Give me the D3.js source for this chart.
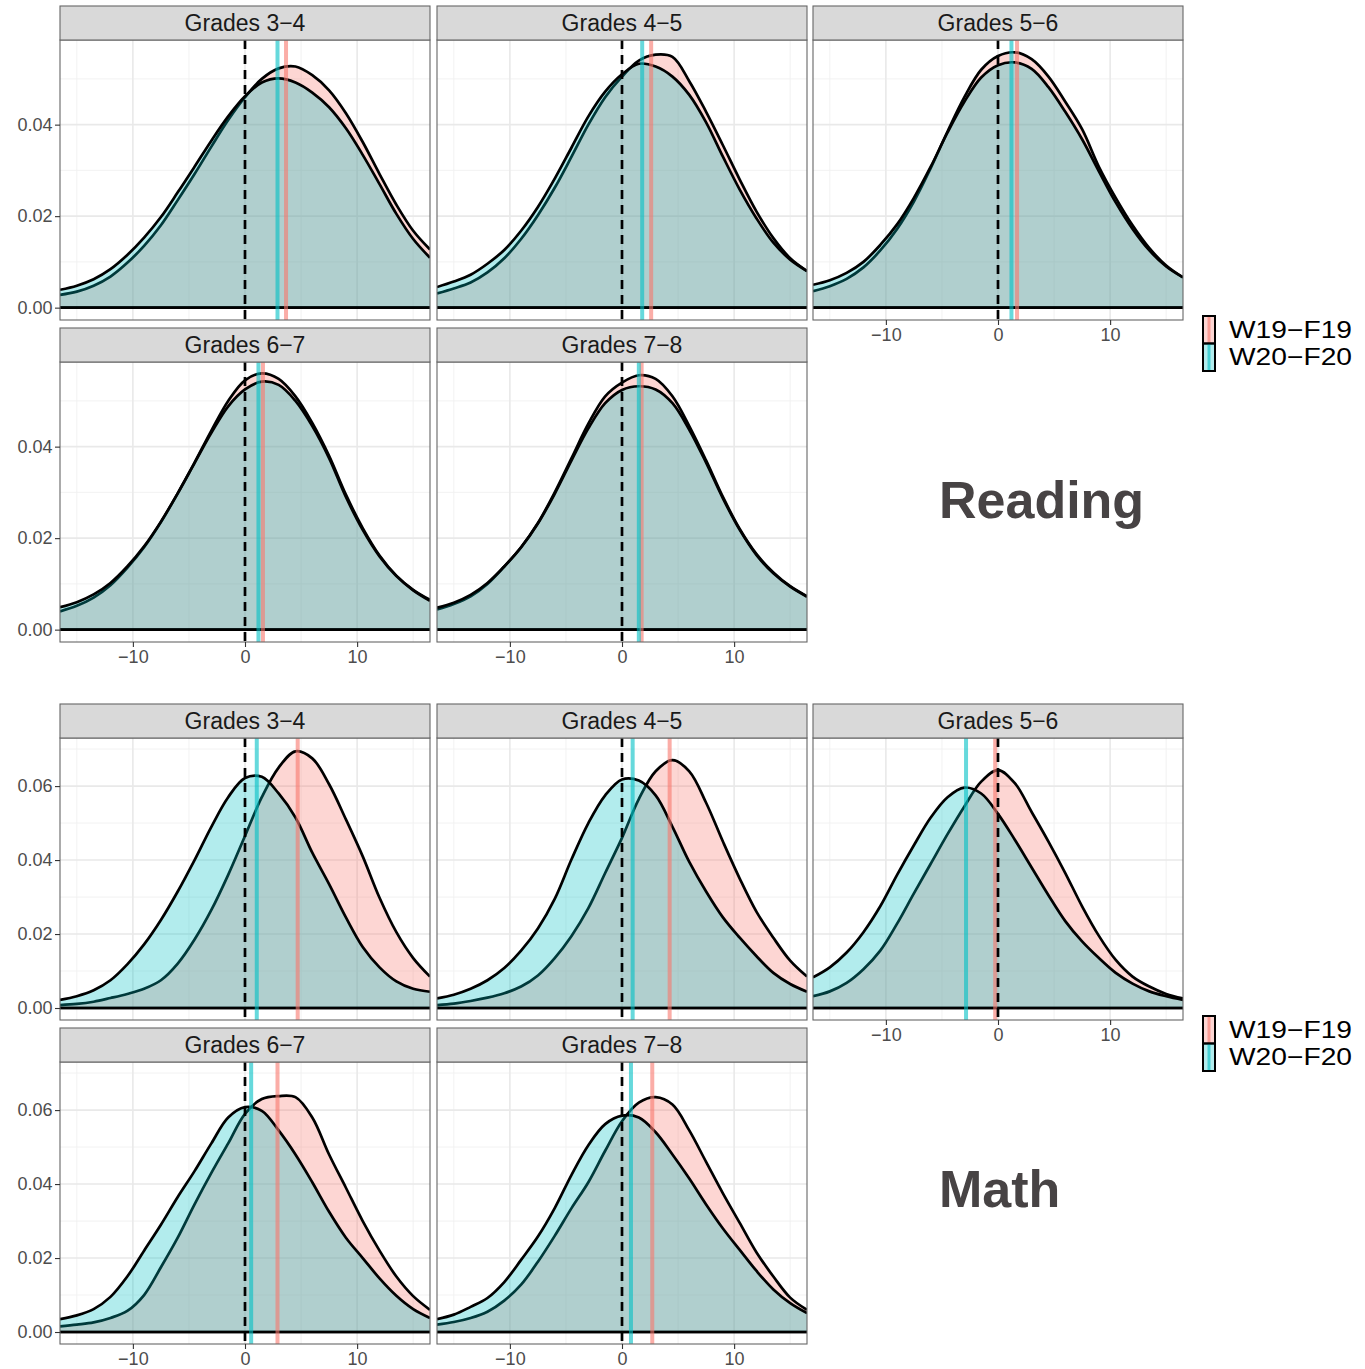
<!DOCTYPE html>
<html><head><meta charset="utf-8">
<script src="https://cdn.jsdelivr.net/npm/d3@7"></script>
<style>
body{margin:0;background:#fff}
svg{display:block}
text{font-family:"Liberation Sans",Arial,Helvetica,sans-serif}
</style>
</head><body>
<svg id="chart" width="1365" height="1369"></svg>
<script>
// ---------- data ----------
const xGrid = [-16.5,-15,-13.5,-12,-10.5,-9,-7.5,-6,-4.5,-3,-1.5,0,1.5,3,4.5,6,7.5,9,10.5,12,13.5,15,16.5];
const grades = ["Grades 3\u22124","Grades 4\u22125","Grades 5\u22126","Grades 6\u22127","Grades 7\u22128"];
const groups = ["W19\u2212F19","W20\u2212F20"];
const xTicks = [-10,0,10];
const readingYTicks = [0,0.02,0.04];
const mathYTicks = [0,0.02,0.04,0.06];

const readingW19 = [
 [0.0028,0.0035,0.0048,0.0068,0.0098,0.0135,0.0180,0.0235,0.0292,0.0352,0.0410,0.0460,0.0500,0.0523,0.0527,0.0508,0.0475,0.0425,0.0362,0.0292,0.0225,0.0168,0.0127],
 [0.0031,0.0042,0.0055,0.0077,0.0108,0.0150,0.0202,0.0262,0.0330,0.0400,0.0460,0.0505,0.0540,0.0553,0.0548,0.0495,0.0428,0.0355,0.0280,0.0210,0.0152,0.0108,0.0080],
 [0.0036,0.0047,0.0063,0.0088,0.0125,0.0172,0.0232,0.0305,0.0385,0.0460,0.0520,0.0550,0.0558,0.0543,0.0505,0.0450,0.0390,0.0308,0.0240,0.0180,0.0130,0.0092,0.0066],
 [0.0040,0.0052,0.0070,0.0097,0.0135,0.0180,0.0235,0.0298,0.0365,0.0435,0.0500,0.0545,0.0560,0.0548,0.0510,0.0452,0.0380,0.0295,0.0222,0.0162,0.0118,0.0087,0.0065],
 [0.0044,0.0056,0.0073,0.0100,0.0138,0.0180,0.0233,0.0300,0.0375,0.0450,0.0510,0.0540,0.0556,0.0548,0.0510,0.0445,0.0370,0.0290,0.0220,0.0165,0.0125,0.0095,0.0073]
];
const readingW20 = [
 [0.0039,0.0048,0.0062,0.0084,0.0115,0.0153,0.0198,0.0252,0.0308,0.0365,0.0418,0.0462,0.0492,0.0501,0.0492,0.0470,0.0438,0.0392,0.0334,0.0270,0.0205,0.0150,0.0109],
 [0.0045,0.0057,0.0072,0.0096,0.0126,0.0168,0.0220,0.0282,0.0350,0.0418,0.0472,0.0510,0.0533,0.0527,0.0505,0.0465,0.0405,0.0330,0.0258,0.0195,0.0142,0.0105,0.0080],
 [0.0050,0.0060,0.0076,0.0100,0.0137,0.0182,0.0240,0.0308,0.0383,0.0450,0.0503,0.0530,0.0536,0.0522,0.0482,0.0428,0.0368,0.0298,0.0230,0.0172,0.0125,0.0090,0.0066],
 [0.0049,0.0060,0.0077,0.0102,0.0138,0.0182,0.0236,0.0298,0.0364,0.0430,0.0488,0.0525,0.0542,0.0535,0.0500,0.0445,0.0375,0.0290,0.0218,0.0160,0.0117,0.0086,0.0063],
 [0.0048,0.0059,0.0076,0.0102,0.0138,0.0180,0.0232,0.0297,0.0370,0.0440,0.0495,0.0524,0.0532,0.0525,0.0495,0.0437,0.0365,0.0287,0.0218,0.0163,0.0123,0.0094,0.0072]
];
const mathW19 = [
 [0.0008,0.0011,0.0017,0.0027,0.0038,0.0052,0.0075,0.0120,0.0185,0.0265,0.0360,0.0465,0.0570,0.0650,0.0694,0.0675,0.0605,0.0510,0.0410,0.0298,0.0205,0.0135,0.0085],
 [0.0008,0.0012,0.0019,0.0028,0.0040,0.0058,0.0088,0.0135,0.0195,0.0270,0.0365,0.0460,0.0565,0.0640,0.0670,0.0640,0.0555,0.0450,0.0350,0.0260,0.0190,0.0128,0.0085],
 [0.0032,0.0045,0.0068,0.0105,0.0155,0.0228,0.0310,0.0390,0.0470,0.0545,0.0612,0.0643,0.0608,0.0530,0.0450,0.0365,0.0275,0.0195,0.0130,0.0085,0.0058,0.0038,0.0026],
 [0.0015,0.0020,0.0026,0.0038,0.0057,0.0100,0.0175,0.0255,0.0345,0.0430,0.0510,0.0590,0.0630,0.0638,0.0635,0.0580,0.0480,0.0390,0.0300,0.0220,0.0150,0.0097,0.0060],
 [0.0020,0.0027,0.0038,0.0055,0.0085,0.0128,0.0190,0.0260,0.0335,0.0405,0.0490,0.0570,0.0620,0.0635,0.0615,0.0545,0.0460,0.0375,0.0295,0.0215,0.0150,0.0093,0.0060]
];
const mathW20 = [
 [0.0022,0.0032,0.0048,0.0075,0.0118,0.0172,0.0238,0.0315,0.0400,0.0490,0.0570,0.0622,0.0625,0.0580,0.0515,0.0420,0.0335,0.0245,0.0165,0.0110,0.0072,0.0052,0.0044],
 [0.0026,0.0036,0.0052,0.0075,0.0108,0.0155,0.0215,0.0295,0.0402,0.0500,0.0575,0.0618,0.0615,0.0575,0.0490,0.0395,0.0315,0.0245,0.0190,0.0140,0.0095,0.0065,0.0044],
 [0.0083,0.0110,0.0150,0.0205,0.0275,0.0360,0.0440,0.0515,0.0570,0.0596,0.0580,0.0525,0.0455,0.0380,0.0305,0.0235,0.0180,0.0135,0.0095,0.0066,0.0045,0.0032,0.0022],
 [0.0035,0.0045,0.0062,0.0095,0.0150,0.0220,0.0290,0.0365,0.0435,0.0510,0.0580,0.0608,0.0598,0.0545,0.0480,0.0405,0.0325,0.0255,0.0200,0.0145,0.0098,0.0062,0.0038],
 [0.0035,0.0047,0.0068,0.0092,0.0135,0.0195,0.0258,0.0335,0.0425,0.0505,0.0562,0.0585,0.0580,0.0540,0.0480,0.0415,0.0345,0.0280,0.0222,0.0165,0.0115,0.0078,0.0051]
];
const readingMeanW19 = [3.66, 2.6, 1.7, 1.6, 1.75];
const readingMeanW20 = [2.9, 1.8, 1.2, 1.2, 1.5];
const mathMeanW19 = [4.7, 4.25, -0.25, 2.9, 2.7];
const mathMeanW20 = [1.05, 0.95, -2.85, 0.55, 0.8];

// ---------- style / layout ----------
const colors = ["#F8766D", "#00BFC4"];
const svg = d3.select("#chart");
const defs = svg.append("defs");
const colX = [60, 437, 813];
const panelW = 370;
const stripH = 34;
let clipId = 0;

function drawBlock(cfg) {
  cfg.w19.forEach((_, i) => {
    const col = i % 3, row = Math.floor(i / 3);
    const x0 = colX[col], x1 = x0 + panelW;
    const st = cfg.stripTops[row];
    const pt = st + stripH, pb = pt + cfg.panelH;
    const x = d3.scaleLinear().domain([-16.5, 16.5]).range([x0, x1]);
    const y = d3.scaleLinear().domain(cfg.yDomain).range([pb, pt]);
    const g = svg.append("g");

    g.append("rect").attr("x", x0).attr("y", pt).attr("width", panelW).attr("height", pb - pt).attr("fill", "#fff");
    const minorX = [-15, -5, 5, 15];
    const minorY = cfg.yTicks.map(v => v + 0.01).filter(v => v < cfg.yDomain[1]);
    g.selectAll(null).data(minorX).enter().append("line")
      .attr("x1", d => x(d)).attr("x2", d => x(d)).attr("y1", pt).attr("y2", pb)
      .attr("stroke", "#F1F1F1").attr("stroke-width", 0.9);
    g.selectAll(null).data(minorY).enter().append("line")
      .attr("x1", x0).attr("x2", x1).attr("y1", d => y(d)).attr("y2", d => y(d))
      .attr("stroke", "#F1F1F1").attr("stroke-width", 0.9);
    g.selectAll(null).data(xTicks).enter().append("line")
      .attr("x1", d => x(d)).attr("x2", d => x(d)).attr("y1", pt).attr("y2", pb)
      .attr("stroke", "#E9E9E9").attr("stroke-width", 1.6);
    g.selectAll(null).data(cfg.yTicks).enter().append("line")
      .attr("x1", x0).attr("x2", x1).attr("y1", d => y(d)).attr("y2", d => y(d))
      .attr("stroke", "#E9E9E9").attr("stroke-width", 1.6);

    const cid = "clip" + (clipId++);
    defs.append("clipPath").attr("id", cid).append("rect")
      .attr("x", x0).attr("y", pt).attr("width", panelW).attr("height", pb - pt);
    const pg = g.append("g").attr("clip-path", `url(#${cid})`);

    const series = [cfg.w19[i], cfg.w20[i]];
    series.forEach((vals, s) => {
      const pts = xGrid.map((xv, k) => [xv, vals[k]]);
      const area = d3.area().x(d => x(d[0])).y0(y(0)).y1(d => y(d[1])).curve(d3.curveCatmullRom);
      const line = d3.line().x(d => x(d[0])).y(d => y(d[1])).curve(d3.curveCatmullRom);
      pg.append("path").attr("d", area(pts)).attr("fill", colors[s]).attr("fill-opacity", 0.3);
      pg.append("path").attr("d", line(pts)).attr("fill", "none").attr("stroke", "#000")
        .attr("stroke-width", 2.7).attr("stroke-linejoin", "round");
      pg.append("line").attr("x1", x0).attr("x2", x1).attr("y1", y(0)).attr("y2", y(0))
        .attr("stroke", "#000").attr("stroke-width", 2.6);
    });
    const means = [cfg.m19[i], cfg.m20[i]];
    means.forEach((m, s) => {
      pg.append("line").attr("x1", x(m)).attr("x2", x(m)).attr("y1", pt).attr("y2", pb)
        .attr("stroke", colors[s]).attr("stroke-opacity", 0.6).attr("stroke-width", 4);
    });
    pg.append("line").attr("x1", x(0)).attr("x2", x(0)).attr("y1", pt).attr("y2", pb)
      .attr("stroke", "#000").attr("stroke-width", 2.7).attr("stroke-dasharray", "9,6");

    g.append("rect").attr("x", x0).attr("y", pt).attr("width", panelW).attr("height", pb - pt)
      .attr("fill", "none").attr("stroke", "#666").attr("stroke-width", 1.1);
    g.append("rect").attr("x", x0).attr("y", st).attr("width", panelW).attr("height", stripH)
      .attr("fill", "#D9D9D9").attr("stroke", "#666").attr("stroke-width", 1.1);
    g.append("text").attr("x", (x0 + x1) / 2).attr("y", st + stripH / 2).attr("dy", "0.35em")
      .attr("text-anchor", "middle").attr("font-size", 23).attr("fill", "#1A1A1A").text(grades[i]);

    if (col === 0) {
      const ax = g.append("g").attr("transform", `translate(${x0},0)`)
        .call(d3.axisLeft(y).tickValues(cfg.yTicks).tickFormat(d3.format(".2f")).tickSize(5).tickPadding(2.5));
      ax.select(".domain").remove();
      ax.selectAll("line").attr("stroke", "#333").attr("stroke-width", 1.1);
      ax.selectAll("text").attr("font-size", 18).attr("fill", "#4D4D4D").attr("font-family", "Liberation Sans, Arial, sans-serif");
    }
    if (i >= 2) {
      const ax = g.append("g").attr("transform", `translate(0,${pb})`)
        .call(d3.axisBottom(x).tickValues(xTicks).tickFormat(d3.format("d")).tickSize(5).tickPadding(3));
      ax.select(".domain").remove();
      ax.selectAll("line").attr("stroke", "#333").attr("stroke-width", 1.1);
      ax.selectAll("text").attr("font-size", 18).attr("fill", "#4D4D4D").attr("font-family", "Liberation Sans, Arial, sans-serif");
    }
  });

  // legend
  const lg = svg.append("g");
  const keyH = 27.5, keyW = 12, kx = 1203;
  const ky0 = cfg.legendCenter - keyH;
  groups.forEach((name, s) => {
    const ky = ky0 + s * keyH;
    lg.append("rect").attr("x", kx).attr("y", ky).attr("width", keyW).attr("height", keyH)
      .attr("fill", colors[s]).attr("fill-opacity", 0.3);
    lg.append("line").attr("x1", kx + keyW / 2).attr("x2", kx + keyW / 2).attr("y1", ky).attr("y2", ky + keyH)
      .attr("stroke", colors[s]).attr("stroke-opacity", 0.6).attr("stroke-width", 3);
    lg.append("rect").attr("x", kx).attr("y", ky).attr("width", keyW).attr("height", keyH)
      .attr("fill", "none").attr("stroke", "#000").attr("stroke-width", 2);
    lg.append("text").attr("x", 1229).attr("y", ky + keyH / 2).attr("dy", "0.35em")
      .attr("font-size", 23.5).attr("textLength", 123).attr("lengthAdjust", "spacingAndGlyphs")
      .attr("fill", "#000").text(name);
  });

  svg.append("text").attr("x", 939).attr("y", cfg.titleY).attr("font-size", 52).attr("font-weight", "bold")
    .attr("fill", "#474344").text(cfg.title);
}

drawBlock({
  w19: readingW19, w20: readingW20, m19: readingMeanW19, m20: readingMeanW20,
  stripTops: [6, 328], panelH: 280, yDomain: [-0.0027, 0.0585], yTicks: readingYTicks,
  legendCenter: 343.5, title: "Reading", titleY: 518
});
drawBlock({
  w19: mathW19, w20: mathW20, m19: mathMeanW19, m20: mathMeanW20,
  stripTops: [704, 1028], panelH: 282, yDomain: [-0.00324, 0.0730], yTicks: mathYTicks,
  legendCenter: 1043.5, title: "Math", titleY: 1207
});
</script>
</body></html>
